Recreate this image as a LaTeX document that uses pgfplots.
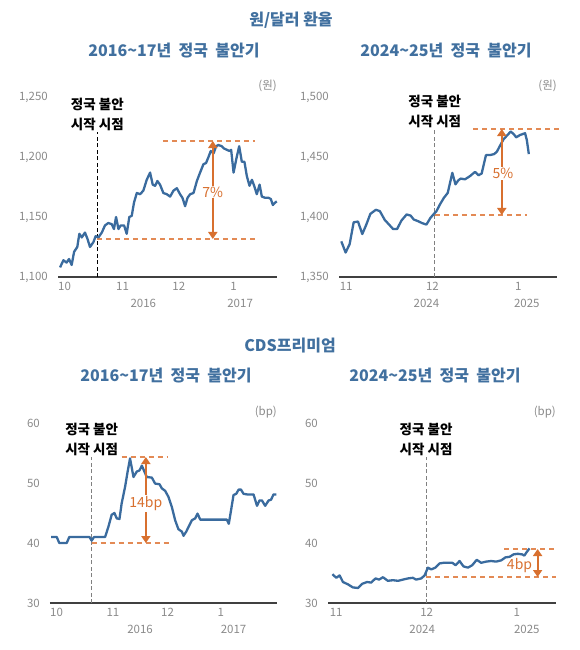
\documentclass[border=0pt]{standalone}
\usepackage{pgfplots}
\pgfplotsset{compat=1.18}
\usepackage{fontspec}
\setmainfont{Noto Sans CJK KR}
\usetikzlibrary{arrows.meta}
\definecolor{lineblue}{HTML}{3A6B9E}
\definecolor{titleblue}{HTML}{41709F}
\definecolor{orng}{HTML}{D8702F}
\definecolor{orngd}{HTML}{E38A55}
\definecolor{tickgray}{HTML}{8A8A8A}
\newcommand{\tickfont}{\fontsize{11.5}{13}\selectfont}
\newcommand{\notefont}{\fontsize{13.5}{20}\selectfont\bfseries}
\newcommand{\titlefont}{\fontsize{16}{18}\selectfont\bfseries}
\newcommand{\pctfont}{\fontsize{14}{16}\selectfont}
\pgfplotsset{
  panel/.style={
    scale only axis,
    clip=false,
    axis x line*=bottom,
    axis y line*=left,
    y axis line style={draw=none},
    x axis line style={draw=black!75, line width=1.1pt, -},
    major tick length=0pt,
    tick style={draw=none},
    tick label style={font=\tickfont, text=tickgray},
    /pgf/number format/assume math mode=true,
    /pgf/number format/1000 sep={,},
    xticklabel style={anchor=north west, inner sep=0pt, yshift=-5pt},
    yticklabel style={anchor=east, inner sep=0pt, xshift=-10pt},
  },
  blueline/.style={line width=2.3pt, color=lineblue, line join=round, mark=none},
  odash/.style={color=orngd, line width=1.6pt, dash pattern=on 5pt off 4pt, mark=none, forget plot},
  vdash/.style={color=gray, line width=1.1pt, dash pattern=on 4pt off 2.5pt, mark=none, forget plot},
  kdash/.style={color=black, line width=1.1pt, dash pattern=on 4pt off 2.5pt, mark=none, forget plot},
  oarrow/.style={color=orng, line width=2pt, mark=none, forget plot, {Triangle[length=7pt,width=9pt]}-{Triangle[length=7pt,width=9pt]}},
}
\begin{document}
\begin{tikzpicture}
\useasboundingbox (0pt,0pt) rectangle (580pt,-650pt);
\node[font=\titlefont, text=titleblue] at (291pt,-20pt) {원/달러\ 환율};
\node[font=\titlefont, text=titleblue] at (174pt,-51pt) {2016\textasciitilde 17년\ \ 정국\ \ 불안기};
\node[font=\titlefont, text=titleblue] at (446pt,-51pt) {2024\textasciitilde 25년\ \ 정국\ \ 불안기};
\node[font=\titlefont, text=titleblue] at (290pt,-346pt) {CDS프리미엄};
\node[font=\titlefont, text=titleblue] at (166pt,-376pt) {2016\textasciitilde 17년\ \ 정국\ \ 불안기};
\node[font=\titlefont, text=titleblue] at (435pt,-376pt) {2024\textasciitilde 25년\ \ 정국\ \ 불안기};

% ---------- Panel 1 ----------
\begin{axis}[panel, at={(58pt,-277pt)}, anchor=south west, width=219pt, height=180pt,
  xmin=0, xmax=117, ymin=1100, ymax=1250, ytick={1100,1150,1200,1250},
  xtick={0,31,61,92}, xticklabels={10,11,12,1}]
\addplot[kdash] coordinates {(21,1100) (21,1221)};
\addplot[odash] coordinates {(56,1213.33) (105,1213.33)};
\addplot[odash] coordinates {(21,1131.67) (106,1131.67)};
\addplot[blueline] coordinates {
(1.1,1108) (2.9,1114) (4.6,1112) (5.9,1115) (7.3,1110) (8.6,1121) (10.3,1125) (11.4,1136)
(12.7,1133) (14.4,1137) (15.7,1132) (17.1,1125) (18.9,1129) (20.1,1134) (21.6,1133) (23.4,1137)
(25.1,1143) (26.9,1145) (28.7,1144) (29.9,1140) (31.0,1150) (32.3,1140) (33.5,1143) (35.3,1143)
(36.7,1136) (38.1,1150) (39.4,1151) (40.6,1162) (42.1,1170) (43.9,1169) (45.6,1172) (47.4,1181)
(49.2,1187) (50.6,1177) (51.9,1176) (53.1,1180) (54.5,1177) (56.3,1170) (58.1,1169) (59.9,1167)
(61.7,1172) (63.5,1174) (65.2,1169) (66.5,1166) (67.9,1159) (69.2,1166) (70.6,1169) (72.4,1170)
(74.2,1180) (75.9,1187) (77.7,1194) (79.1,1195) (80.4,1200) (81.6,1205) (83.1,1203) (84.5,1209)
(85.7,1210) (87.5,1209) (88.8,1207) (90.2,1206) (91.6,1205) (92.5,1206) (93.8,1187) (95.2,1198)
(96.8,1209) (98.2,1196) (99.6,1196) (100.9,1184) (102.3,1176) (103.6,1181) (104.8,1176) (106.2,1169)
(107.7,1177) (108.9,1167) (110.7,1166) (112.5,1166) (113.7,1165) (114.8,1160) (116.0,1162) (116.9,1163)
};
\addplot[oarrow] coordinates {(82.7,1131.67) (82.7,1213.33)};
\node[text=orng, fill=white, inner sep=1pt, font=\pctfont] at (axis cs:82.7,1170.7) {7\%};
\node[anchor=south, align=center, font=\notefont, inner sep=1pt] at (axis cs:21,1221) {정국 불안\\시작 시점};
\node[anchor=south east, font=\tickfont, text=tickgray, inner sep=0pt] at (rel axis cs:1,1) [yshift=5pt] {(원)};
\node[font=\tickfont, text=tickgray] at (axis cs:45.6,1100) [yshift=-26pt] {2016};
\node[font=\tickfont, text=tickgray] at (axis cs:97.3,1100) [yshift=-26pt] {2017};
\end{axis}

% ---------- Panel 2 ----------
\begin{axis}[panel, at={(339pt,-277pt)}, anchor=south west, width=218pt, height=180pt,
  xmin=-0.2, xmax=75.6, ymin=1350, ymax=1500, ytick={1350,1400,1450,1500},
  xtick={0,30,61}, xticklabels={11,12,1}]
\addplot[vdash] coordinates {(33.1,1350) (33.1,1473.33)};
\addplot[odash] coordinates {(46.5,1473.33) (76.7,1473.33)};
\addplot[odash] coordinates {(33.1,1401.67) (65.1,1401.67)};
\addplot[blueline] coordinates {
(0.6,1379.7) (2.1,1370.4) (3.5,1377.4) (4.9,1395.6) (6.4,1396.2) (7.9,1385.8) (9.3,1393.7) (10.7,1402.6)
(12.6,1406.0) (14.0,1404.9) (15.7,1397.6) (17.2,1393.7) (18.6,1390.0) (20.0,1390.0) (21.5,1397.0) (23.3,1402.1)
(24.7,1401.2) (25.8,1397.9) (27.3,1396.5) (28.8,1394.8) (30.2,1393.7) (31.6,1399.3) (32.8,1402.6) (33.7,1404.9)
(34.9,1410.5) (36.3,1416.1) (37.6,1420.0) (38.4,1428.4) (39.2,1436.8) (40.3,1427.2) (41.3,1430.6) (42.1,1432.0)
(43.6,1431.4) (45.3,1434.0) (47.1,1437.6) (48.3,1434.8) (49.4,1436.2) (50.9,1451.6) (52.3,1451.6) (53.7,1452.4)
(54.7,1454.4) (55.6,1458.6) (57.0,1464.7) (58.4,1468.4) (59.5,1471.2) (60.5,1469.2) (61.4,1466.4) (62.8,1468.4)
(64.5,1469.8) (65.1,1464.2) (65.8,1452.4)
};
\addplot[oarrow] coordinates {(56.4,1401.67) (56.4,1473.33)};
\node[text=orng, fill=white, inner sep=1pt, font=\pctfont] at (axis cs:56.8,1436.2) {5\%};
\node[anchor=south, align=center, font=\notefont, inner sep=1pt] at (axis cs:33.1,1473.33) {정국 불안\\시작 시점};
\node[anchor=south east, font=\tickfont, text=tickgray, inner sep=0pt] at (rel axis cs:1,1) [yshift=5pt] {(원)};
\node[font=\tickfont, text=tickgray] at (axis cs:30.2,1350) [yshift=-26pt] {2024};
\node[font=\tickfont, text=tickgray] at (axis cs:65.1,1350) [yshift=-26pt] {2025};
\end{axis}

% ---------- Panel 3 ----------
\begin{axis}[panel, at={(50pt,-603pt)}, anchor=south west, width=227pt, height=180pt,
  xmin=0, xmax=124.8, ymin=30, ymax=60, ytick={30,40,50,60},
  xtick={0,31,61,92}, xticklabels={10,11,12,1}]
\addplot[vdash] coordinates {(22.9,30) (22.9,54.33)};
\addplot[odash] coordinates {(39.4,54.33) (64.2,54.33)};
\addplot[odash] coordinates {(22.9,40) (67,40)};
\addplot[blueline] coordinates {
(0.6,41) (3.7,41) (5.1,40) (9.2,40) (10.6,41) (20.2,41) (21.7,41) (22.9,40.4) (24.2,41) (30.3,41)
(32.1,42.7) (33.9,44.7) (35.4,45) (36.7,44.1) (38.2,44) (39.4,46.6) (41.3,49.4) (42.8,52.1) (44.0,54.1)
(45.9,51) (47.7,51.9) (49.2,52.1) (50.5,52.9) (51.9,51.9) (53.2,51) (56.0,50.9) (57.8,49.9) (60.2,49.8)
(61.5,49.1) (63.3,48.7) (65.1,47.7) (67.0,46) (68.8,43.8) (70.6,42.3) (72.5,41.9) (73.4,41.2) (74.9,41.9)
(76.7,43) (78.0,43.8) (79.8,44.1) (81.1,44.9) (82.6,43.9) (89.9,43.9) (97.2,43.9) (98.3,43.2) (99.4,45.2)
(100.9,48) (102.4,48.2) (103.7,48.9) (105.0,48.9) (106.4,48.2) (108.3,48.1) (111.9,48.1) (113.8,46.2)
(115.2,47.1) (116.5,47.1) (118.3,46.2) (120.2,47.1) (121.5,47.2) (122.9,48.1) (124.4,48.1)
};
\addplot[oarrow] coordinates {(52.7,40) (52.7,54.33)};
\node[text=orng, fill=white, inner sep=1pt, font=\pctfont] at (axis cs:52.7,46.6) {14bp};
\node[anchor=south, align=center, font=\notefont, inner sep=1pt] at (axis cs:22.9,54.33) {정국 불안\\시작 시점};
\node[anchor=south east, font=\tickfont, text=tickgray, inner sep=0pt] at (rel axis cs:1,1) [yshift=5pt] {(bp)};
\node[font=\tickfont, text=tickgray] at (axis cs:49.5,30) [yshift=-26pt] {2016};
\node[font=\tickfont, text=tickgray] at (axis cs:100.9,30) [yshift=-26pt] {2017};
\end{axis}

% ---------- Panel 4 ----------
\begin{axis}[panel, at={(328pt,-603pt)}, anchor=south west, width=228pt, height=180pt,
  xmin=-0.55, xmax=75.1, ymin=30, ymax=60, ytick={30,40,50,60},
  xtick={0,30,61}, xticklabels={11,12,1}]
\addplot[vdash] coordinates {(32,30) (32,54.3)};
\addplot[odash] coordinates {(58,39) (75.7,39)};
\addplot[odash] coordinates {(32,34.33) (75.1,34.33)};
\addplot[blueline] coordinates {
(0.9,34.8) (2.2,34.2) (3.3,34.6) (4.4,33.5) (6.1,33.1) (7.7,32.6) (9.4,32.5) (10.8,33.2) (12.4,33.5)
(13.8,33.4) (15.2,34.1) (16.4,33.9) (17.7,34.3) (19.3,33.7) (21.0,33.8) (22.7,33.7) (24.3,33.9) (26.0,34.1)
(27.6,34.2) (28.7,33.9) (30.4,34.1) (31.5,34.6) (32.6,35.9) (33.7,35.6) (35.1,35.9) (36.5,36.6) (37.8,36.7)
(39.2,36.7) (40.7,36.7) (41.8,36.3) (43.1,37) (44.4,36.1) (45.9,35.9) (47.3,36.3) (48.8,37.2) (50.3,36.7)
(51.9,36.9) (53.6,37) (55.2,36.9) (56.9,37.1) (58.3,37.6) (59.7,37.7) (61.0,38.1) (62.4,38.2) (63.9,38.1)
(64.6,37.9) (65.4,38.5) (66.3,39.1)
};
\addplot[oarrow] coordinates {(69,34.33) (69,39)};
\node[text=orng, inner sep=1pt, font=\pctfont] at (axis cs:63,36.3) {4bp};
\node[anchor=south, align=center, font=\notefont, inner sep=1pt] at (axis cs:32,54.3) {정국 불안\\시작 시점};
\node[anchor=south east, font=\tickfont, text=tickgray, inner sep=0pt] at (rel axis cs:1,1) [yshift=5pt] {(bp)};
\node[font=\tickfont, text=tickgray] at (axis cs:30.7,30) [yshift=-26pt] {2024};
\node[font=\tickfont, text=tickgray] at (axis cs:65.4,30) [yshift=-26pt] {2025};
\end{axis}
\end{tikzpicture}
\end{document}
